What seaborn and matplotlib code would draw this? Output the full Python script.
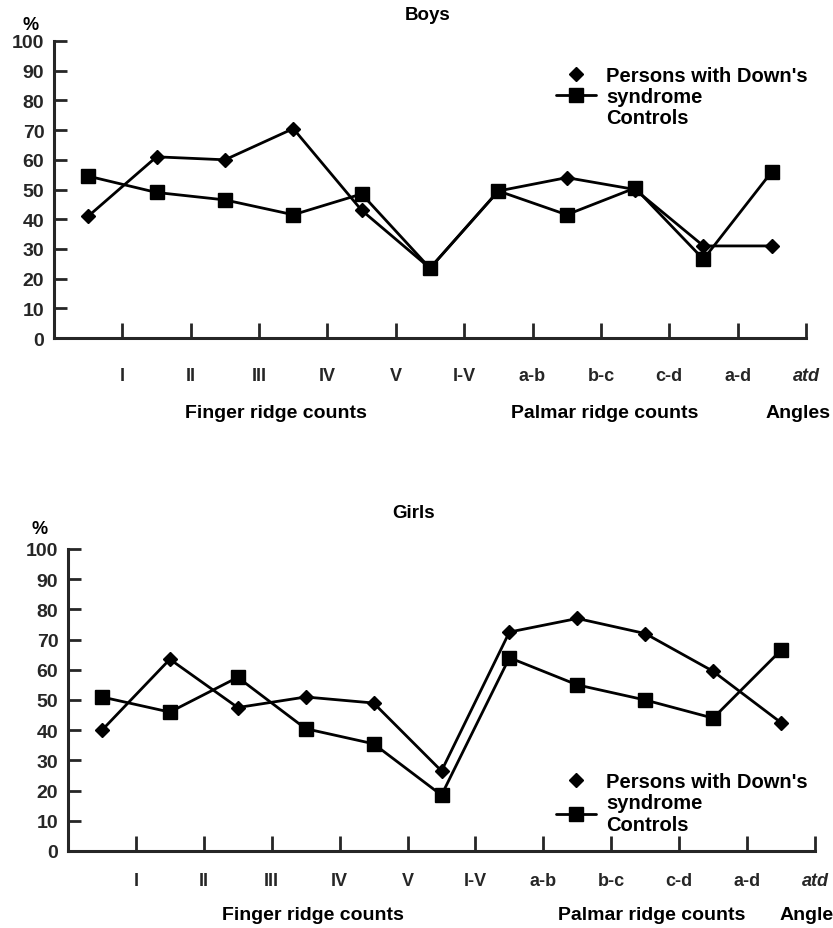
import numpy as np
import pandas as pd
import matplotlib
matplotlib.use("Agg")
import matplotlib.pyplot as plt
import seaborn as sns
from matplotlib.lines import Line2D
from matplotlib.transforms import blended_transform_factory

# values (percent)
categories = ["I", "II", "III", "IV", "V", "I-V", "a-b", "b-c", "c-d", "a-d", "atd"]
y_ticks = [0, 10, 20, 30, 40, 50, 60, 70, 80, 90, 100]

boys_down = [41, 61, 60, 70.5, 43, 23.5, 49.5, 54, 50, 31, 31]
boys_ctrl = [54.5, 49, 46.5, 41.5, 48.5, 23.5, 49.5, 41.5, 50.5, 26.5, 56]
girls_down = [40, 63.5, 47.5, 51, 49, 26.5, 72.5, 77, 72, 59.5, 42.5]
girls_ctrl = [51, 46, 57.5, 40.5, 35.5, 18.5, 64, 55, 50, 44, 66.5]

group_labels = ["Finger ridge counts", "Palmar ridge counts", "Angles"]

sns.set_style("ticks")
plt.rcParams["font.family"] = ["Liberation Sans", "DejaVu Sans"]
plt.rcParams["font.weight"] = "bold"
plt.rcParams["text.color"] = "black"

FS = 14
LW = 2.0


def draw_panel(ax, down, ctrl, title, title_xy, pct_xy, group_x, group_y, tick_pad,
               legend_anchor, three_rows):
    pos = np.arange(len(categories)) + 0.5
    df = pd.DataFrame({"pos": pos, "down": down, "ctrl": ctrl})
    sns.lineplot(data=df, x="pos", y="down", ax=ax, color="black", lw=LW,
                 marker="D", markersize=7, markeredgecolor="black", markeredgewidth=1)
    sns.lineplot(data=df, x="pos", y="ctrl", ax=ax, color="black", lw=LW,
                 marker="s", markersize=10.5, markeredgecolor="black", markeredgewidth=1)

    ax.set_xlim(0, len(categories))
    ax.set_ylim(0, 100)
    ax.set_xticks(np.arange(1, len(categories) + 1))
    ax.set_xticklabels(categories, fontweight="bold")
    ax.get_xticklabels()[-1].set_style("italic")
    ax.set_yticks(y_ticks)
    ax.set_yticklabels([str(v) for v in y_ticks], fontweight="bold")
    ax.set_xlabel("")
    ax.set_ylabel("")
    sns.despine(ax=ax)
    for s in ("left", "bottom"):
        ax.spines[s].set_linewidth(2.2)
    ax.tick_params(axis="x", direction="in", length=11, width=2, pad=tick_pad, labelsize=FS - 1)
    ax.tick_params(axis="y", direction="in", length=9, width=2, pad=7, labelsize=FS)

    fig = ax.figure
    fig.text(pct_xy[0], pct_xy[1], "%", ha="center", va="center", fontsize=FS - 1, fontweight="bold")

    trans = blended_transform_factory(ax.transData, ax.transAxes)
    for gx, lab in zip(group_x, group_labels):
        ax.text(gx, group_y, lab, transform=trans, ha="center", va="center",
                fontsize=FS, fontweight="bold")

    fig.text(title_xy[0], title_xy[1], title, ha="center", va="center",
             fontsize=FS - 0.5, fontweight="bold")

    h_down = Line2D([], [], color="black", marker="D", linestyle="none", markersize=7)
    h_ctrl = Line2D([], [], color="black", marker="s", lw=LW, markersize=10.5)
    if three_rows:
        handles = [h_down, h_ctrl, Line2D([], [], linestyle="none")]
        labels = ["Persons with Down's", "syndrome", "Controls"]
    else:
        handles = [h_down, h_ctrl]
        labels = ["Persons with Down's", "syndrome\nControls"]
    ax.legend(handles, labels, loc="upper left", bbox_to_anchor=legend_anchor,
              bbox_transform=fig.transFigure, frameon=False,
              prop={"size": FS + 0.5, "weight": "bold"},
              handlelength=2.0, handletextpad=0.5, labelspacing=0.1,
              borderpad=0, borderaxespad=0)


fig = plt.figure(figsize=(8.33, 9.29), dpi=100)
W, H = 833, 929
ax1 = fig.add_axes([54 / W, 1 - 339 / H, (806 - 54) / W, (339 - 42) / H])
ax2 = fig.add_axes([68 / W, 1 - 852 / H, (815 - 68) / W, (852 - 550) / H])

draw_panel(ax1, boys_down, boys_ctrl, "Boys", (428 / W, 1 - 16 / H), (31 / W, 1 - 25 / H),
           [3.25, 8.05, 10.88], -0.25, 21, (556 / W, 1 - 67 / H), True)
draw_panel(ax2, girls_down, girls_ctrl, "Girls", (414 / W, 1 - 514 / H), (40 / W, 1 - 530 / H),
           [3.6, 8.6, 10.95], -0.21, 15, (556 / W, 1 - 773 / H), False)

fig.savefig("out.png", dpi=100, facecolor="white")
